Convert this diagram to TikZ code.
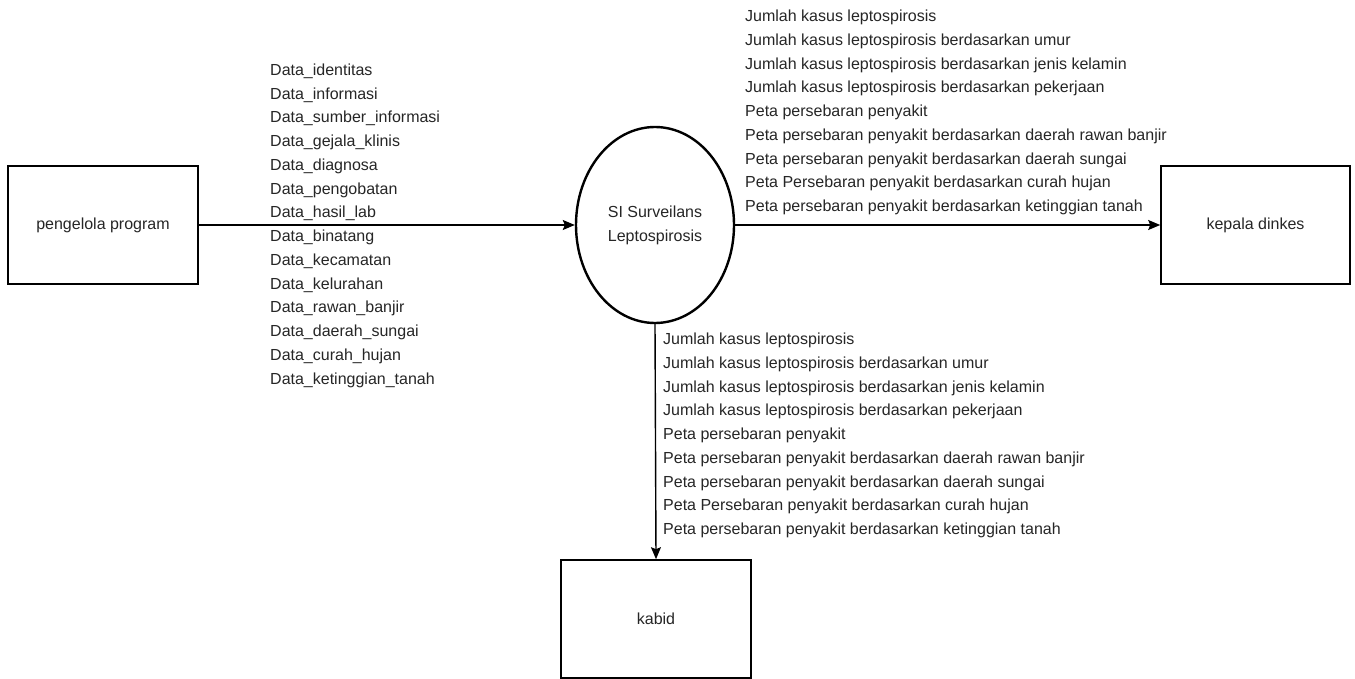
\documentclass[tikz,border=0pt]{standalone}
\usepackage{fontspec}
\setmainfont{Liberation Sans}
\usetikzlibrary{arrows.meta,shapes.geometric}
\begin{document}
\begin{tikzpicture}[x=1pt,y=-1pt,
  txt/.style={font=\fontsize{16}{23.75}\selectfont, text=black!85},
  ent/.style={draw, line width=1.6pt, rectangle, minimum width=190pt, minimum height=118pt, inner sep=0pt, txt},
  proc/.style={draw, line width=2.4pt, ellipse, minimum width=158pt, minimum height=196pt, inner sep=0pt, align=center, txt},
  flow/.style={line width=1.4pt, -{Stealth[length=12pt,width=10pt,inset=2pt]}},
  lbl/.style={align=left, inner sep=0pt, txt}]
\useasboundingbox (0,0) rectangle (1355,679);
\fill[white] (0,0) rectangle (1355,679);
\node[ent] (pp) at (103,225) {pengelola program};
\node[proc] (si) at (655,225) {SI Surveilans\\Leptospirosis};
\node[ent, minimum width=189pt] (kd) at (1255.5,225) {kepala dinkes};
\node[ent] (kb) at (656,619) {kabid};
\draw[flow] (pp) -- (si);
\draw[flow] (si) -- (kd);
\draw[flow] (si.south) -- (kb.north);
\node[lbl, anchor=west] (din) at (270,225.5) {Data\_identitas\\Data\_informasi\\Data\_sumber\_informasi\\Data\_gejala\_klinis\\Data\_diagnosa\\Data\_pengobatan\\Data\_hasil\_lab\\Data\_binatang\\Data\_kecamatan\\Data\_kelurahan\\Data\_rawan\_banjir\\Data\_daerah\_sungai\\Data\_curah\_hujan\\Data\_ketinggian\_tanah};
\node[lbl, anchor=west] (dkd) at (745,112.5) {Jumlah kasus leptospirosis\\Jumlah kasus leptospirosis berdasarkan umur\\Jumlah kasus leptospirosis berdasarkan jenis kelamin\\Jumlah kasus leptospirosis berdasarkan pekerjaan\\Peta persebaran penyakit\\Peta persebaran penyakit berdasarkan daerah rawan banjir\\Peta persebaran penyakit berdasarkan daerah sungai\\Peta Persebaran penyakit berdasarkan curah hujan\\Peta persebaran penyakit berdasarkan ketinggian tanah};
\node[lbl, anchor=west] (dkb) at (663,435.5) {Jumlah kasus leptospirosis\\Jumlah kasus leptospirosis berdasarkan umur\\Jumlah kasus leptospirosis berdasarkan jenis kelamin\\Jumlah kasus leptospirosis berdasarkan pekerjaan\\Peta persebaran penyakit\\Peta persebaran penyakit berdasarkan daerah rawan banjir\\Peta persebaran penyakit berdasarkan daerah sungai\\Peta Persebaran penyakit berdasarkan curah hujan\\Peta persebaran penyakit berdasarkan ketinggian tanah};
\end{tikzpicture}
\end{document}
